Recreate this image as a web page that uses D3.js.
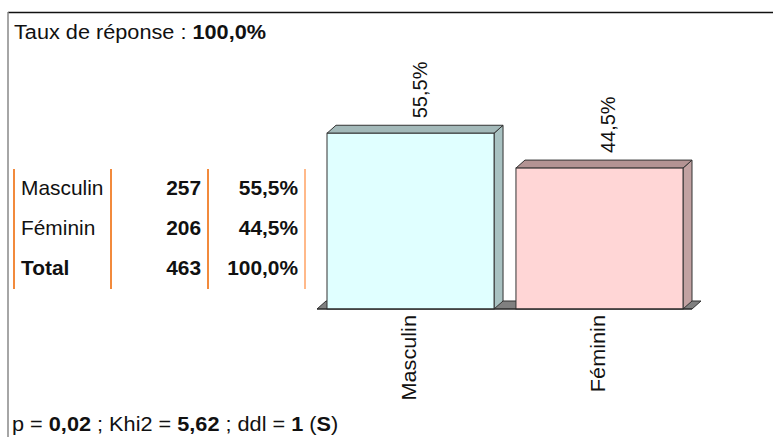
<!DOCTYPE html>
<html><head><meta charset="utf-8">
<script src="https://cdn.jsdelivr.net/npm/d3@7"></script>
<style>body{margin:0;background:#fff}svg{display:block}text{font-family:"Liberation Sans",Arial,sans-serif}</style>
</head><body>
<script>
const categories = ["Masculin", "Féminin"];
const counts = [257, 206];
const percents = [55.5, 44.5];
const percentLabels = ["55,5%", "44,5%"];
const totalCount = 463;
const totalLabel = "100,0%";
const frontColors = ["#e0ffff", "#ffd6d6"];
const sideColors = ["#a9c2c2", "#c2a2a2"];
const topColors = ["#a3b9b9", "#b39393"];

const W = 773, H = 437;
const svg = d3.select("body").append("svg").attr("width", W).attr("height", H);
const sx = 1.085; // horizontal stretch of text in the reference
const sxTable = 1.045;

// frame
svg.append("line").attr("x1", 8).attr("x2", W).attr("y1", 12.5).attr("y2", 12.5).attr("stroke", "#111").attr("stroke-width", 1.5);
svg.append("line").attr("x1", 8).attr("x2", 8).attr("y1", 12).attr("y2", H).attr("stroke", "#888").attr("stroke-width", 1.5);

const fs = 20;
function htext(x0, y0, s) {
  return svg.append("text").attr("transform", `translate(${x0},${y0}) scale(${s || sx},1)`)
    .attr("font-size", fs).attr("fill", "#111");
}
// title
const t = htext(14, 39);
t.append("tspan").text("Taux de réponse : ");
t.append("tspan").attr("font-weight", "bold").text("100,0%");

// table
const rowY = d3.scalePoint().domain([...categories, "Total"]).range([195, 275]);
[14, 111, 208, 305].forEach((x, i) => {
  svg.append("line").attr("x1", x).attr("x2", x).attr("y1", 169).attr("y2", 289)
    .attr("stroke", i === 3 ? "#ffb98a" : "#f28a3c").attr("stroke-width", 2);
});
const rows = categories.map((c, i) => ({name: c, n: counts[i], p: percentLabels[i], bold: false}))
  .concat([{name: "Total", n: totalCount, p: totalLabel, bold: true}]);
rows.forEach(r => {
  const y = rowY(r.name);
  htext(21, y, sxTable).attr("font-weight", r.bold ? "bold" : "normal").text(r.name);
  htext(201, y, sxTable).attr("font-weight", "bold").attr("text-anchor", "end").text(r.n);
  htext(298, y, sxTable).attr("font-weight", "bold").attr("text-anchor", "end").text(r.p);
});

// chart
const x = d3.scaleBand().domain(categories).range([327, 683]).paddingInner(0.116).paddingOuter(0);
const y = d3.scaleLinear().domain([0, 60]).range([309, 119]);
const dx = 9, dy = 8;
const y0 = y(0);
const bw = x.bandwidth();
const fx0 = x(categories[0]) - 10, fx1 = x(categories[categories.length - 1]) + bw + 9;

// floor
svg.append("path")
  .attr("d", `M${fx0},${y0}L${fx0 + dx},${y0 - dy}L${fx1 + dx},${y0 - dy}L${fx1},${y0}Z`)
  .attr("fill", "#808080").attr("stroke", "#333").attr("stroke-width", 1);

const g = svg.append("g").selectAll("g").data(categories).join("g");
g.each(function(c, i) {
  const sel = d3.select(this);
  const x0 = x(c), x1 = x0 + bw, yt = y(percents[i]);
  sel.append("path").attr("d", `M${x1},${yt}L${x1 + dx},${yt - dy}L${x1 + dx},${y0 - dy}L${x1},${y0}Z`)
    .attr("fill", sideColors[i]).attr("stroke", "#333").attr("stroke-width", 1);
  sel.append("path").attr("d", `M${x0},${yt}L${x0 + dx},${yt - dy}L${x1 + dx},${yt - dy}L${x1},${yt}Z`)
    .attr("fill", topColors[i]).attr("stroke", "#333").attr("stroke-width", 1);
  sel.append("rect").attr("x", x0).attr("y", yt).attr("width", bw).attr("height", y0 - yt)
    .attr("fill", frontColors[i]).attr("stroke", "#333").attr("stroke-width", 1);
  // value label
  const lx = x0 + bw / 2 + 9, ly = yt - dy - 7;
  sel.append("text").attr("transform", `translate(${lx},${ly}) rotate(-90)`)
    .attr("dominant-baseline", "central").attr("font-size", fs).attr("fill", "#111").text(percentLabels[i]);
  // category label
  const cx = x0 + bw / 2 - 2;
  sel.append("text").attr("transform", `translate(${cx},${y0 + 6}) rotate(-90) scale(${sx},1)`)
    .attr("text-anchor", "end").attr("dominant-baseline", "central")
    .attr("font-size", fs).attr("fill", "#111").text(c);
});
svg.append("line").attr("x1", fx0).attr("x2", fx1).attr("y1", y0).attr("y2", y0).attr("stroke", "#222").attr("stroke-width", 1);

// footer
const f = htext(12, 431);
f.append("tspan").text("p = ");
f.append("tspan").attr("font-weight", "bold").text("0,02");
f.append("tspan").text(" ; Khi2 = ");
f.append("tspan").attr("font-weight", "bold").text("5,62");
f.append("tspan").text(" ; ddl = ");
f.append("tspan").attr("font-weight", "bold").text("1");
f.append("tspan").text(" (");
f.append("tspan").attr("font-weight", "bold").text("S");
f.append("tspan").text(")");
</script>
</body></html>
